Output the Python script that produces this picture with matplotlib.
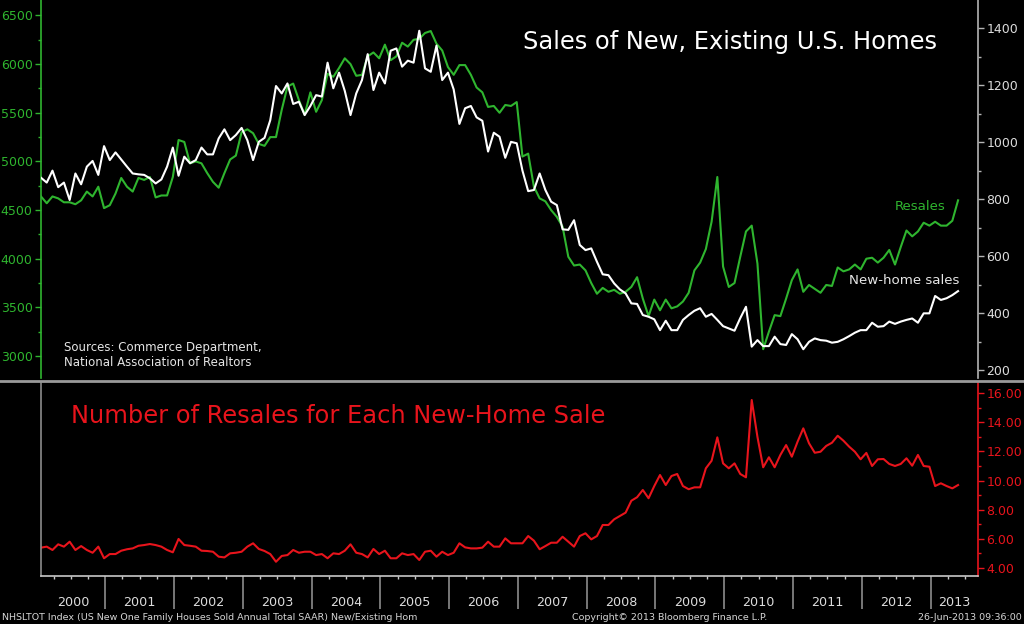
import numpy as np
import matplotlib
matplotlib.use("Agg")
import matplotlib.pyplot as plt
from matplotlib.ticker import MultipleLocator, FormatStrFormatter, NullFormatter
from matplotlib.lines import Line2D
import matplotlib.transforms as mtransforms

plt.rcParams['font.family'] = ['DejaVu Sans']

# ---------------- data (monthly, Jan 2000 - May 2013) ----------------
start_year = 2000

resales = [
    4640, 4570, 4640, 4620, 4580, 4580, 4560, 4600, 4690, 4640,
    4740, 4520, 4550, 4670, 4830, 4740, 4690, 4830, 4810, 4840,
    4630, 4650, 4650, 4840, 5220, 5200, 4980, 5000, 4980, 4880,
    4790, 4730, 4880, 5020, 5060, 5300, 5330, 5290, 5180, 5160,
    5250, 5250, 5530, 5770, 5800, 5630, 5480, 5710, 5510, 5630,
    5900, 5870, 5960, 6060, 6000, 5880, 5890, 6080, 6120, 6060,
    6200, 6040, 6080, 6220, 6180, 6250, 6260, 6320, 6340, 6210,
    6140, 5970, 5890, 5990, 5990, 5890, 5760, 5710, 5560, 5570,
    5500, 5580, 5570, 5610, 5050, 5080, 4740, 4620, 4590, 4500,
    4430, 4330, 4020, 3930, 3940, 3880, 3750, 3640, 3700, 3660,
    3680, 3640, 3660, 3710, 3810, 3590, 3410, 3580, 3470, 3580,
    3490, 3510, 3560, 3650, 3880, 3960, 4100, 4380, 4840, 3920,
    3710, 3750, 4020, 4280, 4340, 3950, 3070, 3250, 3420, 3410,
    3590, 3780, 3890, 3660, 3730, 3690, 3650, 3730, 3720, 3910,
    3870, 3890, 3940, 3890, 4000, 4010, 3960, 4010, 4090, 3940,
    4120, 4290, 4230, 4280, 4370, 4340, 4380, 4340, 4340, 4390, 4600,
]

new_home = [
    875, 858, 900, 842, 858, 797, 890, 852, 914, 934,
    885, 986, 937, 964, 939, 914, 890, 887, 885, 873,
    855, 869, 914, 981, 882, 949, 926, 937, 981, 957,
    957, 1013, 1045, 1007, 1025, 1050, 1007, 937, 1001, 1015,
    1077, 1197, 1171, 1206, 1134, 1142, 1095, 1127, 1165, 1160,
    1279, 1189, 1244, 1180, 1095, 1171, 1218, 1309, 1183, 1244,
    1206, 1321, 1329, 1265, 1286, 1279, 1391, 1259, 1247, 1339,
    1218, 1244, 1185, 1064, 1119, 1127, 1087, 1075, 967, 1033,
    1019, 945, 1001, 996, 900, 828, 832, 890, 832, 791,
    779, 694, 692, 726, 639, 621, 627, 580, 536, 533,
    504, 483, 469, 434, 432, 393, 387, 378, 340, 373,
    340, 340, 376, 393, 408, 417, 387, 397, 376, 354,
    346, 338, 382, 422, 282, 305, 284, 284, 317, 291,
    288, 326, 308, 273, 299, 311, 305, 303, 296, 299,
    308, 319, 331, 340, 340, 366, 352, 354, 370, 362,
    370, 376, 381, 366, 399, 399, 460, 446, 452, 463, 477,
]

ratio = [
    5.38, 5.45, 5.22, 5.61, 5.45, 5.79, 5.22, 5.49, 5.22, 5.03,
    5.45, 4.65, 4.94, 4.94, 5.17, 5.27, 5.33, 5.51, 5.56, 5.63,
    5.56, 5.45, 5.22, 5.06, 5.98, 5.56, 5.51, 5.45, 5.17, 5.15,
    5.10, 4.76, 4.71, 4.99, 5.03, 5.10, 5.45, 5.68, 5.29, 5.15,
    4.94, 4.41, 4.81, 4.87, 5.22, 5.03, 5.10, 5.10, 4.87, 4.94,
    4.65, 4.99, 4.94, 5.17, 5.61, 5.03, 4.94, 4.71, 5.29, 4.94,
    5.17, 4.65, 4.65, 4.99, 4.87, 4.94, 4.53, 5.10, 5.17, 4.76,
    5.10, 4.87, 5.03, 5.68, 5.40, 5.33, 5.33, 5.38, 5.79, 5.45,
    5.45, 6.02, 5.68, 5.68, 5.68, 6.18, 5.86, 5.27, 5.49, 5.72,
    5.72, 6.13, 5.79, 5.45, 6.18, 6.37, 5.95, 6.18, 6.94, 6.94,
    7.33, 7.56, 7.79, 8.61, 8.85, 9.35, 8.78, 9.62, 10.38, 9.69,
    10.31, 10.45, 9.62, 9.40, 9.53, 9.53, 10.84, 11.36, 12.97, 11.18,
    10.84, 11.18, 10.45, 10.22, 15.54, 13.00, 10.91, 11.60, 10.91, 11.76,
    12.44, 11.64, 12.67, 13.59, 12.56, 11.91, 11.98, 12.38, 12.60, 13.08,
    12.74, 12.33, 11.98, 11.46, 11.90, 11.00, 11.46, 11.48, 11.14, 11.00,
    11.14, 11.53, 11.02, 11.76, 11.00, 10.95, 9.62, 9.81, 9.62, 9.46, 9.69,
]

year_labels = [str(y) for y in range(2000, 2014)]

# ---------------- styling ----------------
GREEN = '#2fb52f'
RED = '#e8141c'
WHITE = '#ffffff'
LIGHT = '#dcdcdc'

W, H = 1024, 624


def rect(x0, y0, x1, y1):
    return [x0 / W, 1 - y1 / H, (x1 - x0) / W, (y1 - y0) / H]


def fx(px):
    return px / W


def fy(py):
    return 1 - py / H


def month_x(values):
    return start_year + (np.arange(len(values)) + 0.8) / 12.0


fig = plt.figure(figsize=(W / 100, H / 100), dpi=100, facecolor='black')

ax = fig.add_axes(rect(41, 0, 978, 378))
ax_r = ax.twinx()
ax2 = fig.add_axes(rect(41, 383, 978, 576), sharex=ax)

ax.set_facecolor('black')
ax_r.set_facecolor('none')
ax2.set_facecolor('black')

xmin = start_year + 0.8 / 12.0
xmax = start_year + 13.69

# --- lines ---
ax.plot(month_x(resales), resales, color=GREEN, lw=1.5, zorder=3)
ax_r.plot(month_x(new_home), new_home, color=WHITE, lw=1.5, zorder=3)
ax2.plot(month_x(ratio), ratio, color=RED, lw=1.5)

ax.set_xlim(xmin, xmax)
ax.set_ylim(2774, 6659)
ax_r.set_ylim(172, 1499)
ax2.set_ylim(3.43, 16.71)

# --- top panel axes ---
for s in ('top', 'bottom', 'right'):
    ax.spines[s].set_visible(False)
ax.spines['left'].set_color(GREEN)
ax.spines['left'].set_linewidth(1.2)
ax.yaxis.set_major_locator(MultipleLocator(500))
ax.yaxis.set_minor_locator(MultipleLocator(250))
ax.yaxis.set_major_formatter(FormatStrFormatter('%d'))
ax.tick_params(axis='y', which='major', colors=GREEN, labelsize=9, length=4, width=1, pad=2)
ax.tick_params(axis='y', which='minor', colors=GREEN, length=2, width=1)
ax.tick_params(axis='x', which='both', bottom=False, labelbottom=False, top=False)

for s in ('top', 'bottom', 'left'):
    ax_r.spines[s].set_visible(False)
ax_r.spines['right'].set_color('#b4b4b4')
ax_r.spines['right'].set_linewidth(1.2)
ax_r.yaxis.set_major_locator(MultipleLocator(200))
ax_r.yaxis.set_minor_locator(MultipleLocator(100))
ax_r.yaxis.set_major_formatter(FormatStrFormatter('%d'))
ax_r.tick_params(axis='y', which='major', colors='#b4b4b4', labelcolor=LIGHT, labelsize=9, length=4, width=1, pad=2)
ax_r.tick_params(axis='y', which='minor', colors='#b4b4b4', length=2, width=1)

# --- bottom panel axes ---
ax2.spines['top'].set_visible(False)
ax2.spines['left'].set_color('#8c8c8c')
ax2.spines['bottom'].set_color('#c8c8c8')
ax2.spines['right'].set_color(RED)
for s in ('left', 'bottom', 'right'):
    ax2.spines[s].set_linewidth(1.2)
ax2.yaxis.tick_right()
ax2.yaxis.set_major_locator(MultipleLocator(2))
ax2.yaxis.set_minor_locator(MultipleLocator(1))
ax2.yaxis.set_major_formatter(FormatStrFormatter('%.2f'))
ax2.tick_params(axis='y', which='major', colors=RED, labelsize=9, length=4, width=1, pad=2)
ax2.tick_params(axis='y', which='minor', colors=RED, length=2, width=1)

ax2.xaxis.set_major_locator(MultipleLocator(1))
ax2.xaxis.set_minor_locator(MultipleLocator(0.25))
ax2.xaxis.set_major_formatter(NullFormatter())
ax2.tick_params(axis='x', which='major', colors='#8c8c8c', length=24, width=1.2, direction='out')
ax2.tick_params(axis='x', which='minor', colors='#c8c8c8', length=2.5, width=1, direction='out')

# year labels centred in the visible part of each year
lab_tf = mtransforms.blended_transform_factory(ax2.transData, fig.transFigure)
for lab in year_labels:
    y0 = int(lab)
    lo, hi = max(y0, xmin), min(y0 + 1, xmax)
    ax2.text((lo + hi) / 2, fy(602), lab, transform=lab_tf, ha='center', va='center',
             color=LIGHT, fontsize=9.2, clip_on=False)

# separator line across full width
fig.add_artist(Line2D([0, 1], [fy(381), fy(381)], transform=fig.transFigure,
                      color='#9a9a9a', lw=2))

# --- texts ---
fig.text(fx(523), fy(42), 'Sales of New, Existing U.S. Homes', color=WHITE,
         fontsize=17.4, ha='left', va='center')
fig.text(fx(71), fy(416), 'Number of Resales for Each New-Home Sale', color=RED,
         fontsize=17.4, ha='left', va='center')
fig.text(fx(895), fy(207), 'Resales', color=GREEN, fontsize=9.6, ha='left', va='center')
fig.text(fx(849), fy(281), 'New-home sales', color='#e6e6e6', fontsize=9.6, ha='left', va='center')
fig.text(fx(64), fy(348), 'Sources: Commerce Department,', color='#e6e6e6', fontsize=8.5,
         ha='left', va='center')
fig.text(fx(64), fy(363), 'National Association of Realtors', color='#e6e6e6', fontsize=8.5,
         ha='left', va='center')

fig.text(fx(2), fy(617), 'NHSLTOT Index (US New One Family Houses Sold Annual Total SAAR) New/Existing Hom',
         color='#d6d6d6', fontsize=6.8, ha='left', va='center')
fig.text(fx(572), fy(617), 'Copyright\u00a9 2013 Bloomberg Finance L.P.', color='#d6d6d6',
         fontsize=6.8, ha='left', va='center')
fig.text(fx(1022), fy(617), '26-Jun-2013 09:36:00', color='#d6d6d6', fontsize=6.8,
         ha='right', va='center')

fig.savefig('out.png', dpi=100, facecolor='black')
